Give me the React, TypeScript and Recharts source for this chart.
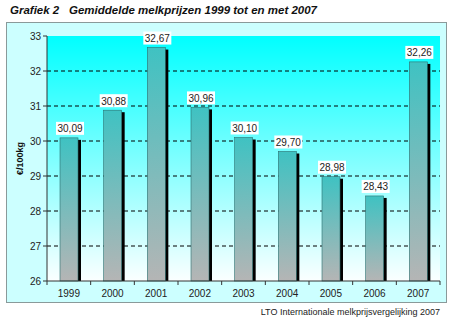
import {
  Bar, BarChart, CartesianGrid, LabelList, XAxis, YAxis,
} from 'recharts';

const years = ['1999', '2000', '2001', '2002', '2003', '2004', '2005', '2006', '2007'];
const prices = [30.09, 30.88, 32.67, 30.96, 30.10, 29.70, 28.98, 28.43, 32.26];
const yTicks = [26, 27, 28, 29, 30, 31, 32, 33];

const data = years.map((y, i) => ({ year: y, price: prices[i] }));

const FONT = '"Liberation Sans", Arial, sans-serif';
const HALF_BAND = (440 - 47) / years.length / 2;

const BarShape = (props: any) => {
  const { x, y, width, height } = props;
  if (height <= 0) return null;
  return (
    <g>
      <rect x={x + 3} y={y + 2} width={width} height={height - 2} fill="#000" />
      <rect x={x} y={y} width={width} height={height} fill="url(#barGrad)" stroke="#2a6f6f" strokeWidth={0.6} />
    </g>
  );
};

const ValueLabel = (props: any) => {
  const { x, y, width, value } = props;
  const cx = x + width / 2 + 1;
  const txt = Number(value).toFixed(2).replace('.', ',');
  return (
    <g>
      <rect x={cx - 14} y={y - 16} width={28} height={13} fill="#fff" />
      <text x={cx} y={y - 5.5} textAnchor="middle" fontSize={10} fill="#222" fontFamily={FONT}>{txt}</text>
    </g>
  );
};

const XTick = (props: any) => {
  const { x, y, payload, index } = props;
  return (
    <g>
      <line x1={x - HALF_BAND} y1={y} x2={x - HALF_BAND} y2={y + 4} stroke="#333" />
      {index === years.length - 1 && (
        <line x1={x + HALF_BAND} y1={y} x2={x + HALF_BAND} y2={y + 4} stroke="#333" />
      )}
      <text x={x} y={y + 16} textAnchor="middle" fontSize={10} fill="#222" fontFamily={FONT}>{payload.value}</text>
    </g>
  );
};

export default function App() {
  return (
    <div style={{ position: 'absolute', left: 0, top: 0, width: 450, height: 326, background: '#fff', fontFamily: FONT }}>
      <div style={{ position: 'absolute', left: 10, top: 4, fontSize: 11.5, fontWeight: 'bold', fontStyle: 'italic', color: '#111', whiteSpace: 'nowrap' }}>
        <span>Grafiek 2</span>
        <span style={{ position: 'absolute', left: 59 }}>Gemiddelde melkprijzen 1999 tot en met 2007</span>
      </div>
      <div style={{ position: 'absolute', left: 6, top: 22, width: 439, height: 279, background: '#ccffff', border: '1px solid #8a9a9a' }} />
      <div style={{ position: 'absolute', left: 0, top: 0 }}>
        <BarChart width={450} height={326} data={data} margin={{ top: 36, right: 10, bottom: 15, left: 17 }} barSize={18}>
          <defs>
            <linearGradient id="bgGrad" x1="0" y1="0" x2="0" y2="1">
              <stop offset="0%" stopColor="#00ffff" />
              <stop offset="100%" stopColor="#fbffff" />
            </linearGradient>
            <linearGradient id="barGrad" x1="0" y1="0" x2="0" y2="1">
              <stop offset="0%" stopColor="#3fc2c2" />
              <stop offset="100%" stopColor="#b5b5b5" />
            </linearGradient>
          </defs>
          <CartesianGrid
            fill="url(#bgGrad)"
            vertical={false}
            stroke="#000"
            strokeDasharray="4 3"
            horizontalValues={[27, 28, 29, 30, 31, 32]}
          />
          <XAxis
            dataKey="year"
            tick={<XTick />}
            tickLine={false}
            tickSize={0}
            tickMargin={0}
            axisLine={{ stroke: '#333' }}
            interval={0}
          />
          <YAxis
            domain={[26, 33]}
            ticks={yTicks}
            width={30}
            tick={{ fontSize: 10, fill: '#222', fontFamily: FONT }}
            tickSize={4}
            tickLine={{ stroke: '#333' }}
            axisLine={{ stroke: '#333' }}
            label={{ value: '€/100kg', angle: -90, position: 'insideLeft', offset: 3, style: { fontSize: 9, fontWeight: 'bold', fill: '#111', textAnchor: 'middle' } }}
          />
          <Bar dataKey="price" shape={<BarShape />} isAnimationActive={false}>
            <LabelList dataKey="price" content={<ValueLabel />} />
          </Bar>
        </BarChart>
      </div>
      <div style={{ position: 'absolute', right: 10, top: 307, fontSize: 9, color: '#222', whiteSpace: 'nowrap' }}>
        LTO Internationale melkprijsvergelijking 2007
      </div>
    </div>
  );
}
